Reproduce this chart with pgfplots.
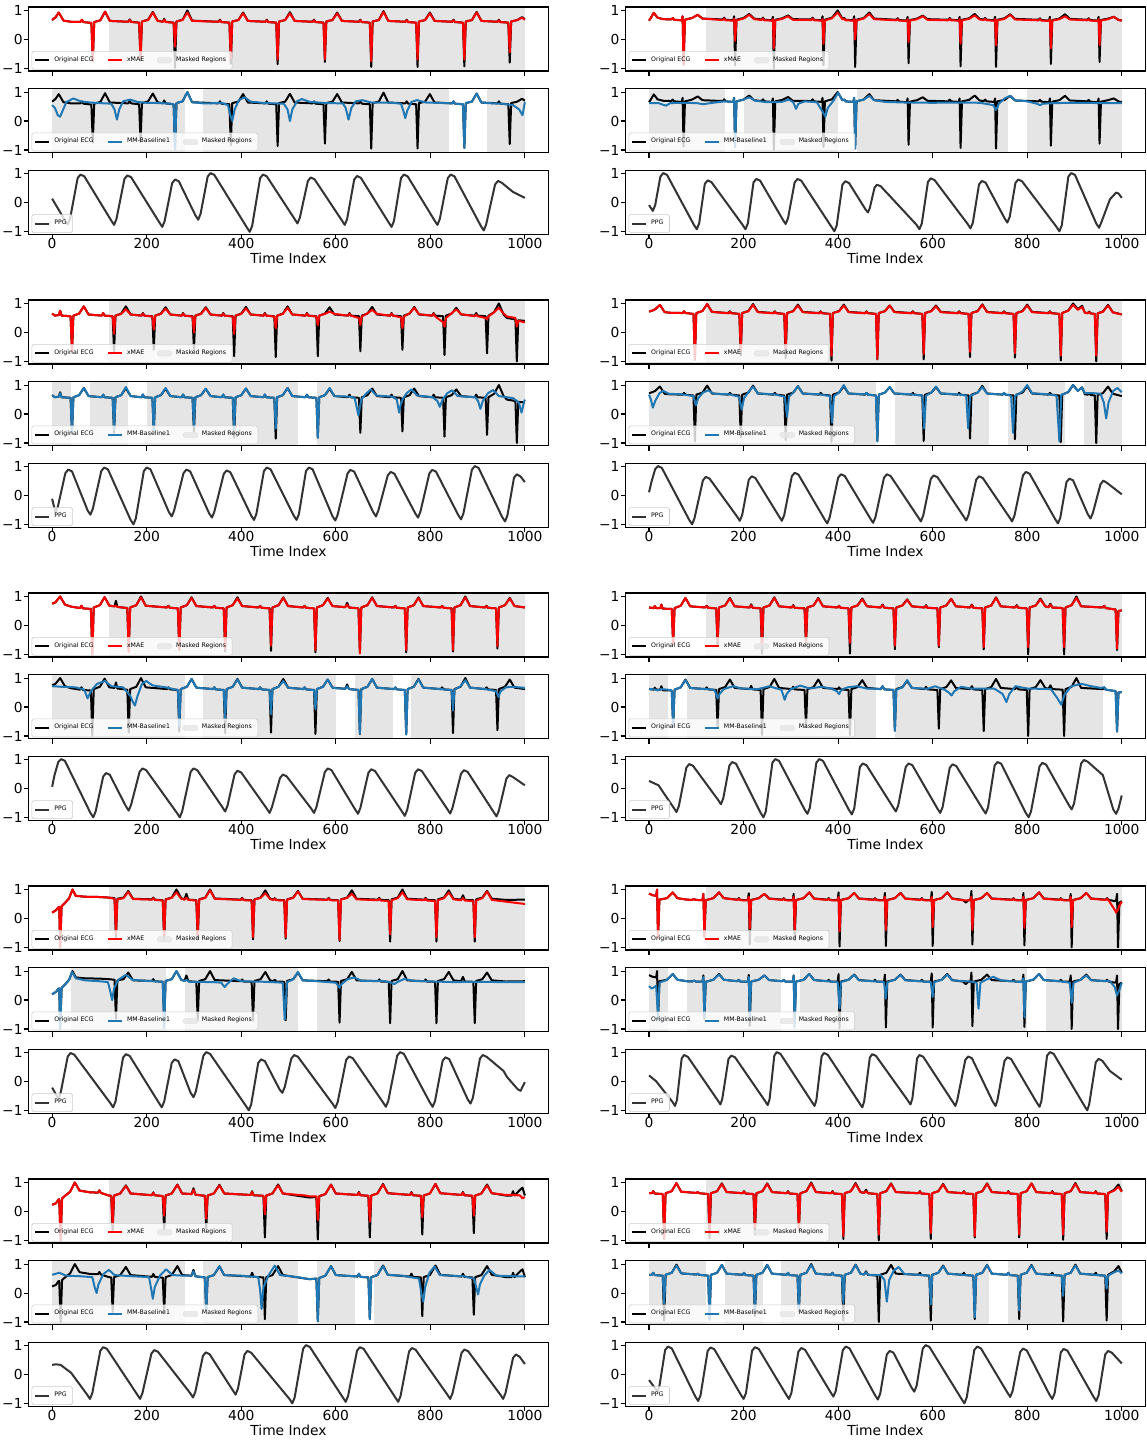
\documentclass[border=0pt]{standalone}
\usepackage{fontspec}
\setmainfont{DejaVu Sans}
\usepackage{pgfplots}
\usepackage{pgfplotstable}
\pgfplotsset{compat=1.18}
\definecolor{maskgray}{gray}{0.9}
\definecolor{mmblue}{RGB}{31,119,180}
\definecolor{ppgc}{gray}{0.2}
\pgfplotsset{
 legend image code/.code={\draw[#1] (0pt,0pt) -- (7.2pt,0pt);},
 maskleg/.style={legend image code/.code={\fill[maskgray] (0pt,-1.3pt) rectangle (7.2pt,1.3pt);}},
 ecgline/.style={black, line width=1pt, line join=round},
 maeline/.style={red, line width=1pt, line join=round},
 blueline/.style={mmblue, line width=1pt, line join=round},
 ppgline/.style={ppgc, line width=1pt, line join=round},
 base/.style={scale only axis, axis on top, width=260pt, height=32pt, xmin=-50, xmax=1050,
  xtick={0,200,400,600,800,1000}, xticklabels={}, ytick={-1,0,1}, yticklabels={−1,0,1},
  tick align=outside, tick pos=left, major tick length=2.45pt,
  every tick/.style={black, line width=0.55pt}, axis line style={line width=0.55pt},
  ticklabel style={font=\fontsize{6.9}{8}\selectfont},
  xticklabel style={yshift=4pt}, yticklabel style={xshift=3pt},
  legend style={font=\fontsize{3.1}{3.7}\selectfont, at={(0.006,0.02)}, anchor=south west,
   draw=black!20, line width=0.3pt, fill=white, fill opacity=0.8, text opacity=1,
   rounded corners=0.8pt, inner xsep=1pt, inner ysep=0.6pt,
   /tikz/every even column/.append style={column sep=4.5pt}},
  legend cell align=left},
 ecgax/.style={base, ymin=-1.09, ymax=1.12, legend columns=3},
 ppgax/.style={base, ymin=-1.1, ymax=1.1, xticklabels={0,200,400,600,800,1000},
  xlabel={Time Index}, xlabel style={font=\fontsize{6.9}{8}\selectfont, at={(axis description cs:0.5,-0.385)}, anchor=center}},
}
\newcommand{\mask}[2]{\addplot[draw=none, fill=maskgray, forget plot] coordinates {(#1,-2) (#1,2) (#2,2) (#2,-2)};}
\newcommand{\panel}[6]{%
 \begin{axis}[ecgax, at={(#1,#2)}, anchor=north west]
  \mask{120}{1000}
  \addplot[ecgline] table[x=x,y=e]{#3};
  \addplot[maeline] table[x=x,y=m]{#3};
  \addlegendimage{maskleg}
  \legend{Original ECG,xMAE,Masked Regions}
 \end{axis}
 \begin{axis}[ecgax, at={(#1,#2-40.8pt)}, anchor=north west]
  #6
  \addplot[ecgline] table[x=x,y=e]{#3};
  \addplot[blueline] table[x=x,y=y]{#4};
  \addlegendimage{maskleg}
  \legend{Original ECG,MM-Baseline1,Masked Regions}
 \end{axis}
 \begin{axis}[ppgax, at={(#1,#2-81.6pt)}, anchor=north west]
  \addplot[ppgline] table[x=x,y=y]{#5};
  \legend{PPG}
 \end{axis}
}
% ---------------- Panel A (row 1 left)
\pgfplotstableread{
x e m
0 0.67 0.67
7 0.76 0.76
14 0.93 0.93
24 0.65 0.65
40 0.61 0.61
60 0.61 0.61
63 0.68 0.68
66 0.6 0.6
83 0.57 0.57
86 -0.75 -0.75
89 0.6 0.6
102 0.66 0.66
112 0.96 0.96
122 0.64 0.64
161 0.61 0.61
164 0.69 0.67
167 0.61 0.6
184 0.58 0.58
187 -0.72 -0.63
190 0.62 0.62
203 0.68 0.67
213 0.95 0.93
223 0.65 0.64
234 0.61 0.61
237 0.71 0.68
240 0.61 0.6
257 0.58 0.58
260 -0.98 -0.25
263 0.62 0.62
276 0.68 0.67
286 1.0 0.93
296 0.65 0.64
352 0.61 0.61
355 0.68 0.66
358 0.6 0.6
375 0.58 0.58
378 -0.84 -0.67
381 0.62 0.62
394 0.67 0.67
404 0.93 0.9
414 0.64 0.64
451 0.61 0.61
454 0.68 0.66
457 0.6 0.6
474 0.58 0.58
477 -0.86 -0.7
480 0.62 0.62
493 0.67 0.67
503 0.94 0.9
513 0.64 0.64
551 0.61 0.61
554 0.68 0.66
557 0.6 0.6
574 0.58 0.58
577 -0.78 -0.68
580 0.62 0.62
593 0.67 0.67
603 0.93 0.9
613 0.64 0.64
649 0.61 0.61
652 0.68 0.66
655 0.6 0.6
672 0.58 0.58
675 -0.95 -0.75
678 0.62 0.62
691 0.67 0.67
701 0.98 0.95
711 0.64 0.64
747 0.61 0.61
750 0.68 0.66
753 0.6 0.6
770 0.58 0.58
773 -0.95 -0.7
776 0.62 0.62
789 0.67 0.67
799 0.93 0.9
809 0.64 0.64
846 0.61 0.61
849 0.68 0.66
852 0.6 0.6
869 0.58 0.58
872 -0.93 -0.7
875 0.62 0.62
888 0.67 0.67
898 0.95 0.93
908 0.64 0.64
942 0.61 0.61
945 0.68 0.66
948 0.6 0.6
965 0.58 0.58
968 -0.8 -0.45
971 0.62 0.62
984 0.67 0.67
994 0.77 0.75
1000 0.7 0.68
}\ecgA
\pgfplotstableread{
x y
0 0.55
6 0.45
12 0.2
17 0.15
22 0.35
30 0.65
45 0.78
60 0.68
80 0.64
100 0.62
125 0.6
132 0.4
137 0.05
142 0.4
150 0.68
165 0.74
180 0.66
200 0.63
230 0.62
250 0.6
257 0.58
260 -0.98
263 0.62
276 0.68
286 1.0
296 0.65
320 0.61
360 0.62
372 0.55
377 0.2
381 0.0
386 0.4
395 0.72
407 0.82
420 0.67
450 0.62
490 0.6
498 0.4
503 0.0
508 0.4
518 0.68
528 0.76
545 0.66
580 0.62
615 0.61
621 0.45
627 0.05
633 0.45
642 0.68
656 0.72
675 0.64
720 0.63
738 0.6
743 0.35
747 0.1
751 0.35
760 0.66
772 0.72
790 0.64
830 0.62
846 0.61
849 0.68
852 0.6
869 0.58
872 -0.93
875 0.62
888 0.67
898 0.95
908 0.64
920 0.62
950 0.6
975 0.55
988 0.4
995 0.2
1000 0.65
}\mmA
\pgfplotstableread{
x y
0 0.12
27 -0.62
33 -0.76
38 -0.56
54 0.83
60 0.95
68 0.89
125 -0.63
131 -0.78
136 -0.58
153 0.8
159 0.92
167 0.86
227 -0.7
233 -0.85
238 -0.65
254 0.66
260 0.78
268 0.72
303 -0.45
309 -0.6
314 -0.4
329 0.88
335 1.0
343 0.94
412 -0.87
418 -1.02
423 -0.82
440 0.83
446 0.95
454 0.89
513 -0.58
519 -0.73
524 -0.53
541 0.73
547 0.85
555 0.79
613 -0.63
619 -0.78
624 -0.58
639 0.78
645 0.9
653 0.84
712 -0.7
718 -0.85
723 -0.65
738 0.83
744 0.95
752 0.89
809 -0.63
815 -0.78
820 -0.58
837 0.83
843 0.95
851 0.89
907 -0.82
913 -0.97
918 -0.77
937 0.61
943 0.73
951 0.67
975 0.35
1000 0.15
}\ppgA
% ---------------- Panel B (row 1 right)
\pgfplotstableread{
x e m
0 0.65 0.65
4 0.75 0.75
10 0.92 0.92
18 0.75 0.75
30 0.7 0.7
47 0.69 0.69
50 0.74 0.74
53 0.68 0.68
69 0.66 0.66
71 0.8 0.8
73 -0.88 -0.88
76 0.68 0.68
91 0.74 0.74
103 0.85 0.85
113 0.72 0.72
156 0.69 0.67
159 0.75 0.72
162 0.68 0.66
178 0.66 0.65
180 0.8 0.72
182 -0.9 -0.05
185 0.68 0.66
200 0.74 0.72
212 0.88 0.85
222 0.72 0.7
238 0.69 0.67
241 0.75 0.72
244 0.68 0.66
260 0.66 0.65
262 0.78 0.7
264 -1.0 -0.3
267 0.68 0.66
282 0.73 0.71
294 0.83 0.8
304 0.7 0.68
343 0.69 0.67
346 0.75 0.72
349 0.68 0.66
365 0.66 0.65
367 0.8 0.7
369 -0.9 -0.15
372 0.68 0.66
387 0.75 0.73
399 1.0 0.93
409 0.72 0.7
413 0.74 0.71
416 0.68 0.66
432 0.66 0.65
434 0.8 0.7
436 -0.95 0.0
439 0.68 0.66
454 0.74 0.72
466 0.93 0.88
476 0.72 0.7
523 0.68 0.66
526 0.73 0.7
529 0.67 0.65
545 0.65 0.64
547 0.78 0.7
549 -0.82 -0.1
552 0.67 0.65
567 0.72 0.7
579 0.82 0.8
589 0.7 0.68
633 0.68 0.66
636 0.74 0.71
639 0.68 0.66
655 0.66 0.65
657 0.78 0.7
659 -0.93 -0.15
662 0.68 0.66
677 0.73 0.71
689 0.88 0.83
699 0.71 0.69
708 0.69 0.67
711 0.74 0.71
714 0.68 0.66
730 0.66 0.65
732 0.78 0.7
734 -0.95 -0.2
737 0.68 0.66
752 0.73 0.71
764 0.87 0.85
774 0.71 0.69
824 0.68 0.66
827 0.73 0.7
830 0.67 0.65
846 0.65 0.64
848 0.78 0.7
850 -0.85 -0.3
853 0.67 0.65
868 0.72 0.7
880 0.87 0.8
890 0.71 0.69
927 0.68 0.66
930 0.73 0.7
933 0.67 0.65
949 0.65 0.64
951 0.78 0.7
953 -0.78 -0.2
956 0.67 0.65
971 0.72 0.7
983 0.78 0.78
993 0.68 0.67
1000 0.65 0.65
}\ecgB
\pgfplotstableread{
x y
0 0.62
20 0.62
30 0.56
36 0.53
45 0.62
70 0.63
100 0.62
115 0.58
122 0.6
140 0.64
160 0.68
162 0.68
178 0.66
180 0.8
182 -0.9
185 0.68
200 0.74
212 0.82
225 0.7
250 0.65
280 0.66
296 0.74
305 0.65
311 0.42
316 0.6
330 0.68
355 0.65
368 0.3
373 0.15
378 0.45
390 0.7
400 0.98
409 0.72
413 0.74
416 0.68
432 0.66
434 0.8
436 -0.95
439 0.68
454 0.74
466 0.87
476 0.72
500 0.66
540 0.64
600 0.63
660 0.64
700 0.63
728 0.55
734 0.38
740 0.6
752 0.78
764 0.87
774 0.72
800 0.68
820 0.6
827 0.55
834 0.6
860 0.62
900 0.63
960 0.62
1000 0.62
}\mmB
\pgfplotstableread{
x y
0 -0.1
8 -0.3
13 -0.1
24 0.88
30 1.0
38 0.94
95 -0.78
101 -0.93
106 -0.73
118 0.63
124 0.75
132 0.69
198 -0.78
204 -0.93
209 -0.73
221 0.68
227 0.8
235 0.74
283 -0.6
289 -0.75
294 -0.55
308 0.68
314 0.8
322 0.74
386 -0.85
392 -1.0
397 -0.8
409 0.6
415 0.72
423 0.66
458 -0.25
463 -0.35
467 -0.2
477 0.5
482 0.6
490 0.55
566 -0.78
572 -0.93
577 -0.73
590 0.7
596 0.82
604 0.76
674 -0.75
680 -0.9
685 -0.7
698 0.61
704 0.73
712 0.67
752 -0.55
758 -0.7
763 -0.5
775 0.66
781 0.78
789 0.72
862 -0.85
868 -1.0
873 -0.8
887 0.88
893 1.0
901 0.94
946 -0.73
952 -0.88
957 -0.68
975 0.1
988 0.33
993 0.3
1000 0.15
}\ppgB
% ---------------- Panel C (row 2 left)
\pgfplotstableread{
x e m
0 0.65 0.65
6 0.58 0.58
14 0.6 0.6
17 0.75 0.75
20 0.58 0.58
39 0.56 0.56
42 -0.65 -0.65
45 0.58 0.58
57 0.65 0.65
67 0.9 0.9
77 0.62 0.62
105 0.58 0.58
108 0.67 0.67
111 0.58 0.58
128 0.56 0.56
131 -0.65 -0.05
134 0.58 0.58
146 0.65 0.64
156 0.9 0.8
166 0.62 0.62
189 0.58 0.58
192 0.67 0.65
195 0.58 0.58
212 0.56 0.55
215 -0.6 0.1
218 0.58 0.58
230 0.65 0.64
240 0.87 0.82
250 0.62 0.62
274 0.58 0.58
277 0.67 0.65
280 0.58 0.58
297 0.56 0.55
300 -0.6 0.0
303 0.58 0.58
315 0.65 0.64
325 0.87 0.84
335 0.62 0.62
359 0.58 0.58
362 0.67 0.65
365 0.58 0.58
382 0.56 0.55
385 -0.82 -0.05
388 0.58 0.58
400 0.65 0.64
410 0.88 0.83
420 0.62 0.62
447 0.58 0.58
450 0.67 0.65
453 0.58 0.58
470 0.56 0.55
473 -0.85 0.15
476 0.58 0.58
488 0.65 0.64
498 0.9 0.85
508 0.62 0.62
536 0.58 0.58
539 0.67 0.65
542 0.58 0.58
559 0.56 0.55
562 -0.82 0.25
565 0.58 0.58
577 0.65 0.64
587 0.87 0.72
597 0.62 0.64
626 0.58 0.58
629 0.67 0.65
632 0.58 0.58
649 0.56 0.5
652 -0.65 0.25
655 0.58 0.55
667 0.65 0.66
677 0.88 0.78
687 0.62 0.64
715 0.58 0.58
718 0.67 0.65
721 0.58 0.58
738 0.56 0.52
741 -0.6 0.15
744 0.58 0.55
756 0.65 0.66
766 0.88 0.85
776 0.62 0.63
804 0.58 0.58
807 0.67 0.65
810 0.58 0.56
827 0.56 0.35
830 -0.78 0.2
833 0.58 0.5
845 0.65 0.66
855 0.85 0.8
865 0.62 0.63
894 0.58 0.56
897 0.67 0.62
900 0.58 0.56
917 0.56 0.5
920 -0.72 0.45
923 0.58 0.55
935 0.7 0.7
945 1.0 0.85
955 0.62 0.65
962 0.5 0.55
980 0.45 0.5
983 -1.0 0.2
986 0.42 0.4
1000 0.4 0.35
}\ecgC
\pgfplotstableread{
x y
0 0.65
6 0.58
14 0.6
17 0.72
20 0.58
39 0.56
42 -0.65
45 0.58
57 0.65
67 0.9
77 0.62
105 0.58
108 0.67
111 0.58
128 0.56
131 -0.55
134 0.58
146 0.65
156 0.93
166 0.62
189 0.58
192 0.68
195 0.58
212 0.56
215 -0.6
218 0.58
230 0.65
240 0.9
250 0.62
274 0.58
277 0.68
280 0.58
297 0.56
300 -0.42
303 0.58
315 0.65
325 0.87
335 0.62
359 0.58
362 0.68
365 0.58
382 0.56
385 -0.55
388 0.58
400 0.65
410 0.88
420 0.62
447 0.58
450 0.68
453 0.58
470 0.56
473 -0.5
476 0.58
488 0.65
498 0.9
508 0.62
536 0.58
539 0.66
542 0.58
559 0.56
562 -0.82
565 0.58
577 0.65
587 0.9
597 0.62
630 0.6
640 0.55
648 -0.05
654 0.5
664 0.7
674 0.85
686 0.64
720 0.6
729 0.5
734 0.05
739 0.45
750 0.72
760 0.85
772 0.64
805 0.58
815 0.45
820 0.25
826 0.5
836 0.72
846 0.82
858 0.62
895 0.58
901 0.45
906 0.18
911 0.45
922 0.72
933 0.83
945 0.62
975 0.55
987 0.4
993 0.05
998 0.4
1000 0.5
}\mmC
\pgfplotstableread{
x y
0 -0.12
7 -0.6
12 -0.4
28 0.76
34 0.88
42 0.82
75 -0.52
81 -0.67
86 -0.47
104 0.83
110 0.95
118 0.89
166 -0.85
172 -1.0
177 -0.8
194 0.83
200 0.95
208 0.89
247 -0.58
253 -0.73
258 -0.53
278 0.76
284 0.88
292 0.82
332 -0.62
338 -0.77
343 -0.57
363 0.73
369 0.85
377 0.79
421 -0.7
427 -0.85
432 -0.65
448 0.83
454 0.95
462 0.89
511 -0.7
517 -0.85
522 -0.65
537 0.83
543 0.95
551 0.89
593 -0.72
599 -0.87
604 -0.67
625 0.75
631 0.87
639 0.81
679 -0.58
685 -0.73
690 -0.53
710 0.68
716 0.8
724 0.74
768 -0.62
774 -0.77
779 -0.57
798 0.75
804 0.87
812 0.81
859 -0.68
865 -0.83
870 -0.63
888 0.88
894 1.0
902 0.94
952 -0.75
958 -0.9
963 -0.7
977 0.6
983 0.72
991 0.64
1000 0.45
}\ppgC
% ---------------- Panel D (row 2 right)
\pgfplotstableread{
x e m
0 0.72 0.72
8 0.76 0.76
13 0.8 0.8
23 0.95 0.95
33 0.7 0.7
45 0.68 0.68
71 0.67 0.67
74 0.73 0.73
77 0.67 0.67
94 0.64 0.64
97 -0.95 -0.92
100 0.67 0.67
113 0.74 0.74
123 0.98 0.98
133 0.71 0.71
168 0.67 0.66
171 0.73 0.71
174 0.67 0.66
191 0.64 0.64
194 -0.8 -0.6
197 0.67 0.67
210 0.74 0.73
220 0.98 0.95
230 0.71 0.7
263 0.67 0.66
266 0.73 0.71
269 0.67 0.66
286 0.64 0.64
289 -0.9 -0.55
292 0.67 0.67
305 0.74 0.73
315 0.96 0.93
325 0.71 0.7
360 0.67 0.66
363 0.73 0.71
366 0.67 0.66
383 0.64 0.64
386 -0.97 -0.8
389 0.67 0.67
402 0.74 0.73
412 0.96 0.93
422 0.71 0.7
457 0.67 0.66
460 0.73 0.71
463 0.67 0.66
480 0.64 0.64
483 -0.93 -0.92
486 0.67 0.67
499 0.74 0.73
509 0.93 0.93
519 0.71 0.7
555 0.67 0.66
558 0.73 0.71
561 0.67 0.66
578 0.64 0.64
581 -0.93 -0.75
584 0.67 0.67
597 0.74 0.73
607 0.93 0.9
617 0.71 0.7
653 0.67 0.66
656 0.73 0.71
659 0.67 0.66
676 0.64 0.64
679 -0.85 -0.67
682 0.67 0.67
695 0.74 0.73
705 0.97 0.95
715 0.71 0.7
748 0.67 0.66
751 0.73 0.71
754 0.67 0.66
771 0.64 0.64
774 -0.87 -0.72
777 0.67 0.67
790 0.74 0.73
800 0.96 0.93
810 0.71 0.7
845 0.67 0.66
848 0.73 0.71
851 0.67 0.66
868 0.64 0.64
871 -0.97 -0.8
874 0.67 0.67
887 0.76 0.75
897 1.0 0.95
907 0.8 0.78
916 0.92 0.88
922 0.68 0.68
928 0.67 0.66
931 0.72 0.7
934 0.66 0.65
943 0.64 0.64
946 -1.0 -0.8
949 0.66 0.66
960 0.72 0.71
971 0.95 0.93
981 0.7 0.69
1000 0.62 0.62
}\ecgD
\pgfplotstableread{
x y
0 0.67
4 0.5
8 0.22
13 0.45
22 0.72
30 0.8
42 0.7
70 0.68
94 0.62
99 0.3
104 0.55
114 0.74
125 0.82
137 0.7
170 0.68
190 0.6
196 0.15
201 0.55
210 0.75
220 0.95
230 0.71
265 0.68
287 0.6
292 -0.1
296 0.6
305 0.74
315 0.96
325 0.71
360 0.68
383 0.62
387 -0.3
391 0.62
402 0.74
412 1.0
422 0.71
457 0.68
460 0.73
463 0.67
480 0.64
483 -0.95
486 0.67
499 0.74
509 0.93
519 0.71
555 0.68
578 0.64
582 -0.5
586 0.64
597 0.74
607 0.95
617 0.71
653 0.68
671 0.64
675 -0.5
679 0.62
695 0.74
705 0.93
715 0.71
720 0.7
748 0.67
751 0.73
754 0.67
760 0.66
766 0.62
770 -0.65
774 0.62
790 0.78
800 1.0
810 0.72
845 0.68
862 0.64
868 -0.95
872 0.67
880 0.7
887 0.78
897 1.0
907 0.8
916 0.92
922 0.72
940 0.72
955 0.7
962 0.4
967 -0.15
972 0.4
982 0.8
991 0.9
1000 0.75
}\mmD
\pgfplotstableread{
x y
0 0.1
5 0.45
13 0.9
19 1.0
27 0.94
85 -0.85
91 -1.0
96 -0.8
114 0.51
120 0.63
128 0.57
186 -0.73
192 -0.88
197 -0.68
211 0.53
217 0.65
225 0.59
275 -0.73
281 -0.88
286 -0.68
302 0.65
308 0.77
316 0.71
371 -0.82
377 -0.97
382 -0.77
400 0.6
406 0.72
414 0.66
468 -0.8
474 -0.95
479 -0.75
497 0.6
503 0.72
511 0.66
569 -0.75
575 -0.9
580 -0.7
596 0.56
602 0.68
610 0.62
665 -0.72
671 -0.87
676 -0.67
692 0.53
698 0.65
706 0.59
762 -0.75
768 -0.9
773 -0.7
791 0.68
797 0.8
805 0.74
859 -0.82
865 -0.97
870 -0.77
883 0.45
889 0.57
897 0.51
928 -0.65
934 -0.8
939 -0.6
955 0.38
961 0.5
969 0.42
1000 0.03
}\ppgD
% ---------------- Panel E (row 3 left)
\pgfplotstableread{
x e m
0 0.75 0.75
7 0.8 0.8
17 1.0 1.0
27 0.72 0.72
40 0.65 0.65
59 0.6 0.6
62 0.68 0.68
65 0.59 0.59
82 0.57 0.57
85 -1.0 -1.0
88 0.62 0.62
101 0.7 0.7
111 0.98 0.98
121 0.68 0.68
132 0.66 0.66
135 0.85 0.68
138 0.64 0.64
159 0.6 0.6
162 -0.88 -0.92
165 0.62 0.62
178 0.7 0.7
188 1.0 0.97
198 0.68 0.68
243 0.62 0.62
246 0.68 0.67
249 0.61 0.61
266 0.59 0.59
269 -0.85 -0.85
272 0.62 0.62
285 0.7 0.7
295 0.97 0.95
305 0.67 0.67
340 0.62 0.62
343 0.68 0.67
346 0.61 0.61
363 0.59 0.59
366 -0.9 -0.8
369 0.62 0.62
382 0.7 0.7
392 0.97 0.93
402 0.67 0.67
437 0.62 0.62
440 0.68 0.67
443 0.61 0.61
460 0.59 0.59
463 -0.88 -0.7
466 0.62 0.62
479 0.7 0.7
489 0.97 0.95
499 0.67 0.67
531 0.62 0.62
534 0.68 0.67
537 0.61 0.61
554 0.59 0.59
557 -0.93 -0.85
560 0.62 0.62
573 0.7 0.7
583 0.95 0.93
593 0.67 0.67
620 0.63 0.63
624 0.78 0.72
628 0.62 0.62
648 0.59 0.59
651 -0.93 -0.97
654 0.62 0.62
667 0.7 0.7
677 0.97 0.95
687 0.67 0.67
723 0.62 0.62
726 0.68 0.67
729 0.61 0.61
746 0.59 0.59
749 -0.93 -0.85
752 0.62 0.62
765 0.7 0.7
775 0.97 0.95
785 0.67 0.67
822 0.62 0.62
825 0.68 0.67
828 0.61 0.61
845 0.59 0.59
848 -0.9 -0.85
851 0.62 0.62
864 0.7 0.7
874 1.0 0.97
884 0.67 0.67
916 0.62 0.62
919 0.68 0.67
922 0.61 0.61
939 0.59 0.59
942 -0.8 -0.72
945 0.62 0.62
958 0.7 0.7
968 0.95 0.93
978 0.67 0.67
1000 0.62 0.62
}\ecgE
\pgfplotstableread{
x y
0 0.72
20 0.7
50 0.68
68 0.6
75 0.3
82 0.55
95 0.8
112 0.9
125 0.72
150 0.68
165 0.4
170 0.2
175 0.05
181 0.4
190 0.8
199 0.9
212 0.75
240 0.68
266 0.59
269 -0.65
272 0.62
285 0.7
295 0.97
305 0.67
340 0.62
343 0.68
346 0.61
363 0.59
366 -0.45
369 0.62
382 0.7
392 0.95
402 0.67
437 0.62
440 0.68
443 0.61
460 0.59
463 -0.25
466 0.62
479 0.7
489 0.9
499 0.67
531 0.62
534 0.68
537 0.61
554 0.59
557 -0.08
560 0.62
573 0.7
583 0.95
593 0.67
600 0.65
620 0.63
624 0.72
628 0.62
648 0.59
651 -0.93
654 0.62
667 0.7
677 0.97
687 0.67
723 0.62
726 0.68
729 0.61
746 0.59
749 -0.95
752 0.62
765 0.7
775 0.95
785 0.67
822 0.62
845 0.59
848 -0.12
851 0.6
864 0.72
874 0.93
884 0.67
916 0.62
939 0.55
944 0.35
949 0.55
960 0.68
975 0.7
1000 0.66
}\mmE
\pgfplotstableread{
x y
0 0.05
5 0.45
13 0.9
19 1.0
27 0.94
81 -0.85
87 -1.0
92 -0.8
108 0.4
114 0.52
122 0.46
156 -0.62
162 -0.77
167 -0.57
185 0.56
191 0.68
199 0.62
264 -0.85
270 -1.0
275 -0.8
293 0.56
299 0.68
307 0.62
360 -0.65
366 -0.8
371 -0.6
386 0.48
392 0.6
400 0.54
454 -0.7
460 -0.85
465 -0.65
482 0.35
488 0.47
496 0.41
548 -0.7
554 -0.85
559 -0.65
577 0.56
583 0.68
591 0.62
641 -0.73
647 -0.88
652 -0.68
669 0.53
675 0.65
683 0.59
740 -0.8
746 -0.95
751 -0.75
768 0.53
774 0.65
782 0.59
836 -0.72
842 -0.87
847 -0.67
865 0.5
871 0.62
879 0.56
934 -0.82
940 -0.97
945 -0.77
961 0.33
967 0.45
975 0.38
1000 0.1
}\ppgE
% ---------------- Panel F (row 3 right)
\pgfplotstableread{
x e m
0 0.62 0.62
10 0.6 0.6
12 0.67 0.67
15 0.6 0.6
24 0.6 0.6
26 0.72 0.72
29 0.58 0.58
48 0.57 0.57
51 -0.65 -0.65
54 0.6 0.6
67 0.68 0.68
77 0.95 0.95
87 0.66 0.66
119 0.62 0.62
122 0.68 0.67
125 0.61 0.61
142 0.59 0.59
145 -0.7 -0.55
148 0.62 0.62
161 0.69 0.69
171 0.95 0.93
181 0.66 0.66
213 0.62 0.62
216 0.73 0.7
219 0.61 0.61
236 0.59 0.59
239 -0.97 -0.7
242 0.62 0.62
255 0.69 0.69
265 0.97 0.95
275 0.66 0.66
302 0.62 0.62
305 0.7 0.68
308 0.61 0.61
329 0.59 0.59
332 -0.7 -0.55
335 0.62 0.62
348 0.69 0.69
358 0.95 0.93
368 0.66 0.66
399 0.62 0.62
402 0.68 0.67
405 0.61 0.61
422 0.59 0.59
425 -0.97 -0.6
428 0.62 0.62
441 0.69 0.69
451 0.93 0.9
461 0.66 0.66
490 0.62 0.62
494 0.72 0.7
498 0.61 0.61
517 0.59 0.59
520 -0.82 -0.7
523 0.62 0.62
536 0.69 0.69
546 0.9 0.88
556 0.66 0.66
583 0.62 0.62
586 0.7 0.68
589 0.61 0.61
610 0.59 0.59
613 -0.75 -0.7
616 0.62 0.62
629 0.69 0.69
639 0.92 0.92
649 0.66 0.66
679 0.62 0.62
683 0.72 0.7
686 0.61 0.61
705 0.59 0.59
708 -0.83 -0.75
711 0.62 0.62
724 0.69 0.69
734 0.97 0.95
744 0.66 0.66
774 0.62 0.62
778 0.7 0.68
781 0.61 0.61
799 0.59 0.59
802 -1.0 -0.75
805 0.62 0.62
818 0.69 0.69
828 0.93 0.9
838 0.66 0.66
845 0.63 0.63
849 0.75 0.72
853 0.62 0.62
875 0.6 0.6
878 -1.0 -0.75
881 0.62 0.62
894 0.7 0.7
904 1.0 0.95
914 0.66 0.66
960 0.62 0.62
963 0.68 0.67
966 0.6 0.6
987 0.55 0.55
990 -0.85 -0.8
993 0.5 0.5
1000 0.52 0.52
}\ecgF
\pgfplotstableread{
x y
0 0.63
14 0.6
19 0.57
24 0.62
40 0.6
48 0.57
51 -0.65
54 0.6
67 0.68
77 0.93
87 0.66
100 0.64
120 0.62
138 0.6
142 0.45
145 0.29
149 0.45
158 0.62
178 0.72
195 0.64
230 0.62
255 0.72
270 0.64
280 0.6
284 0.4
287 0.25
291 0.45
300 0.62
320 0.74
340 0.64
365 0.7
385 0.64
397 0.55
402 0.45
407 0.6
420 0.68
440 0.72
460 0.64
480 0.63
490 0.62
494 0.72
498 0.61
517 0.59
520 -0.82
523 0.6
536 0.68
546 0.93
556 0.66
590 0.63
605 0.72
625 0.6
634 0.5
640 0.4
646 0.55
660 0.7
680 0.64
730 0.64
748 0.45
756 0.17
762 0.45
775 0.72
800 0.64
850 0.62
864 0.3
872 0.08
878 0.4
893 0.72
915 0.8
935 0.72
955 0.66
963 0.68
966 0.6
987 0.55
990 -0.85
993 0.5
1000 0.52
}\mmF
\pgfplotstableread{
x y
0 0.25
20 0.1
52 -0.67
58 -0.82
63 -0.62
79 0.71
85 0.83
93 0.77
146 -0.4
152 -0.55
157 -0.35
170 0.78
176 0.9
184 0.84
236 -0.85
242 -1.0
247 -0.8
261 0.88
267 1.0
275 0.94
329 -0.73
335 -0.88
340 -0.68
354 0.88
360 1.0
368 0.94
423 -0.75
429 -0.9
434 -0.7
446 0.73
452 0.85
460 0.79
516 -0.65
522 -0.8
527 -0.6
543 0.73
549 0.85
557 0.79
610 -0.7
616 -0.85
621 -0.65
636 0.7
642 0.82
650 0.76
706 -0.72
712 -0.87
717 -0.67
731 0.78
737 0.9
745 0.84
797 -0.85
803 -1.0
808 -0.8
826 0.75
832 0.87
840 0.81
888 -0.58
894 -0.73
899 -0.53
914 0.85
920 0.97
928 0.91
960 0.45
982 -0.73
988 -0.88
993 -0.7
1000 -0.25
}\ppgF
% ---------------- Panel G (row 4 left)
\pgfplotstableread{
x e m
0 0.2 0.2
8 0.28 0.28
13 0.38 0.38
15 0.4 0.4
17 -1.0 -1.0
20 0.42 0.42
28 0.55 0.55
36 0.7 0.7
43 1.0 1.0
50 0.78 0.78
70 0.75 0.75
100 0.74 0.74
120 0.72 0.72
132 0.7 0.68
135 -0.65 -0.55
138 0.68 0.66
151 0.72 0.7
161 0.95 0.92
171 0.68 0.67
211 0.66 0.65
214 0.72 0.7
217 0.65 0.64
234 0.63 0.62
237 -0.75 -0.6
240 0.66 0.65
253 0.72 0.71
263 1.0 0.9
273 0.7 0.68
280 0.66 0.65
284 0.85 0.72
288 0.65 0.64
305 0.63 0.62
308 -0.72 -0.6
311 0.66 0.65
324 0.72 0.71
334 1.0 0.97
344 0.69 0.68
399 0.65 0.64
402 0.71 0.69
405 0.64 0.63
422 0.63 0.62
425 -0.72 -0.65
428 0.66 0.65
441 0.72 0.71
451 0.97 0.87
461 0.68 0.67
468 0.65 0.64
471 0.7 0.68
474 0.64 0.63
491 0.63 0.62
494 -0.7 -0.65
497 0.66 0.65
510 0.72 0.71
520 0.95 0.93
530 0.68 0.67
582 0.65 0.64
585 0.71 0.69
588 0.64 0.63
605 0.63 0.62
608 -0.78 -0.75
611 0.66 0.65
624 0.72 0.71
634 0.97 0.85
644 0.68 0.66
689 0.65 0.63
692 0.71 0.68
695 0.64 0.62
712 0.63 0.6
715 -0.8 -0.55
718 0.66 0.63
731 0.72 0.7
741 1.0 0.9
751 0.68 0.66
787 0.65 0.63
790 0.71 0.68
793 0.64 0.62
810 0.63 0.6
813 -0.8 -0.65
816 0.66 0.63
829 0.72 0.7
839 0.97 0.9
849 0.68 0.66
865 0.65 0.63
869 0.8 0.7
873 0.64 0.62
891 0.63 0.6
894 -0.8 -0.65
897 0.66 0.62
910 0.72 0.7
920 0.95 0.93
930 0.68 0.64
960 0.64 0.58
1000 0.65 0.5
}\ecgG
\pgfplotstableread{
x y
0 0.2
8 0.28
13 0.38
15 0.4
17 -1.0
20 0.42
28 0.55
36 0.7
42 0.97
50 0.75
70 0.68
100 0.65
118 0.62
123 0.3
127 0.0
131 0.4
140 0.7
156 0.87
170 0.7
200 0.66
225 0.64
234 0.63
237 -0.96
240 0.66
253 0.72
263 1.0
273 0.7
280 0.66
284 0.7
290 0.63
340 0.62
358 0.6
362 0.5
365 0.45
370 0.55
384 0.75
400 0.65
450 0.63
488 0.6
492 -0.68
497 0.62
510 0.72
520 0.97
530 0.68
560 0.65
600 0.6
605 0.5
608 0.42
612 0.55
625 0.72
639 0.78
655 0.66
700 0.66
718 0.6
724 0.55
730 0.62
745 0.73
765 0.66
850 0.62
900 0.63
950 0.62
1000 0.62
}\mmG
\pgfplotstableread{
x y
0 -0.22
13 -0.6
18 -0.4
33 0.85
39 0.97
47 0.91
123 -0.75
129 -0.9
134 -0.7
150 0.81
156 0.93
164 0.87
226 -0.75
232 -0.9
237 -0.7
253 0.63
259 0.75
267 0.69
293 -0.4
299 -0.55
304 -0.35
320 0.88
326 1.0
334 0.94
410 -0.85
416 -1.0
421 -0.8
436 0.63
442 0.75
450 0.69
481 -0.28
487 -0.4
492 -0.2
506 0.78
512 0.9
520 0.84
593 -0.77
599 -0.92
604 -0.72
622 0.73
628 0.85
636 0.79
700 -0.73
706 -0.88
711 -0.68
730 0.88
736 1.0
744 0.94
799 -0.73
805 -0.88
810 -0.68
826 0.7
832 0.82
840 0.76
879 -0.62
885 -0.77
890 -0.57
905 0.78
911 0.9
919 0.84
955 0.35
962 0.15
985 -0.28
991 -0.33
1000 -0.03
}\ppgG
% ---------------- Panel H (row 4 right)
\pgfplotstableread{
x e m
0 0.86 0.86
8 0.8 0.8
15 0.78 0.78
17 1.0 1.0
19 -0.68 -0.68
22 0.65 0.65
38 0.7 0.7
50 0.9 0.9
60 0.7 0.7
80 0.65 0.65
91 0.64 0.64
95 0.67 0.67
99 0.64 0.64
113 0.63 0.63
115 0.85 0.85
117 -0.65 -0.65
120 0.63 0.63
136 0.7 0.7
148 0.9 0.9
158 0.7 0.7
187 0.65 0.64
190 0.7 0.68
193 0.64 0.63
209 0.63 0.62
211 0.87 0.75
213 -0.9 -0.35
216 0.64 0.63
232 0.7 0.7
244 0.85 0.85
254 0.69 0.68
282 0.65 0.64
285 0.7 0.68
288 0.64 0.63
304 0.63 0.62
306 0.85 0.75
308 -0.75 -0.45
311 0.64 0.63
327 0.7 0.7
339 0.9 0.9
349 0.69 0.68
377 0.65 0.64
380 0.7 0.68
383 0.64 0.63
399 0.63 0.62
401 0.9 0.75
403 -0.97 -0.45
406 0.64 0.63
422 0.7 0.7
434 0.88 0.88
444 0.69 0.68
475 0.65 0.64
478 0.7 0.68
481 0.64 0.63
497 0.63 0.62
499 0.88 0.75
501 -0.95 -0.4
504 0.64 0.63
520 0.7 0.7
532 0.88 0.88
542 0.69 0.68
574 0.65 0.64
577 0.7 0.68
580 0.64 0.63
596 0.63 0.62
598 0.92 0.75
600 -0.95 -0.3
603 0.64 0.63
619 0.7 0.7
631 0.9 0.9
641 0.69 0.68
658 0.65 0.64
664 0.64 0.63
670 0.55 0.62
676 0.64 0.63
680 0.63 0.62
682 0.95 0.75
684 -0.9 -0.4
687 0.64 0.63
703 0.7 0.7
715 0.88 0.88
725 0.69 0.68
768 0.65 0.64
771 0.7 0.68
774 0.64 0.63
790 0.63 0.62
792 0.88 0.75
794 -0.93 -0.33
797 0.64 0.63
813 0.7 0.7
825 0.9 0.9
835 0.69 0.68
868 0.65 0.64
871 0.7 0.68
874 0.64 0.63
890 0.63 0.62
892 0.85 0.75
894 -1.0 -0.3
897 0.64 0.63
913 0.7 0.7
925 0.88 0.88
935 0.69 0.68
966 0.65 0.64
969 0.7 0.68
972 0.64 0.63
985 0.6 0.3
988 0.62 0.2
990 0.85 0.25
992 -1.0 0.3
995 0.55 0.45
1000 0.6 0.58
}\ecgH
\pgfplotstableread{
x y
0 0.48
5 0.4
12 0.45
15 0.5
19 -0.6
22 0.6
38 0.7
50 0.9
60 0.7
80 0.65
91 0.64
95 0.67
99 0.64
113 0.63
115 0.8
117 -0.6
120 0.63
136 0.7
148 0.88
158 0.7
187 0.65
190 0.7
193 0.64
209 0.63
211 0.8
213 -0.6
216 0.64
232 0.7
244 0.85
254 0.69
282 0.65
285 0.7
288 0.64
304 0.63
306 0.85
308 -0.95
311 0.64
327 0.7
339 0.9
349 0.69
377 0.65
399 0.62
403 -0.3
406 0.62
422 0.7
434 0.87
444 0.68
475 0.65
497 0.62
501 0.05
504 0.62
520 0.7
532 0.87
542 0.68
574 0.65
596 0.62
600 0.1
603 0.62
619 0.7
631 0.88
641 0.68
680 0.64
693 0.6
697 -0.3
701 0.6
715 0.72
728 0.8
745 0.68
788 0.62
792 0.75
794 -0.6
797 0.64
813 0.71
825 0.9
835 0.69
868 0.65
890 0.6
894 -0.1
898 0.6
913 0.7
925 0.85
935 0.68
975 0.65
985 0.45
990 0.15
995 0.35
1000 0.6
}\mmH
\pgfplotstableread{
x y
0 0.2
15 0.0
49 -0.7
55 -0.85
59 -0.65
69 0.78
74 0.9
82 0.84
145 -0.65
151 -0.8
155 -0.6
168 0.76
174 0.88
182 0.82
245 -0.67
251 -0.82
255 -0.62
265 0.88
270 1.0
278 0.94
344 -0.7
350 -0.85
354 -0.65
365 0.85
370 0.97
378 0.91
445 -0.75
451 -0.9
455 -0.7
467 0.81
472 0.93
480 0.87
547 -0.65
553 -0.8
557 -0.6
567 0.78
572 0.9
580 0.84
642 -0.7
648 -0.85
652 -0.65
669 0.73
675 0.85
683 0.79
727 -0.7
733 -0.85
737 -0.65
752 0.7
758 0.82
766 0.76
820 -0.73
826 -0.88
830 -0.68
842 0.88
848 1.0
856 0.94
921 -0.85
927 -1.0
931 -0.8
945 0.65
951 0.77
959 0.7
975 0.35
1000 0.05
}\ppgH
% ---------------- Panel I (row 5 left)
\pgfplotstableread{
x e m
0 0.23 0.23
8 0.28 0.28
13 0.4 0.4
15 0.42 0.42
18 -1.0 -1.0
21 0.45 0.45
28 0.55 0.55
38 0.68 0.68
48 1.0 1.0
58 0.72 0.72
80 0.66 0.66
97 0.65 0.65
100 0.73 0.73
103 0.64 0.64
120 0.55 0.55
125 0.54 0.54
128 -0.65 -0.45
131 0.55 0.55
144 0.62 0.62
156 0.9 0.88
166 0.62 0.62
211 0.56 0.56
214 0.66 0.64
217 0.56 0.56
234 0.53 0.53
237 -0.65 -0.15
240 0.55 0.55
253 0.62 0.62
265 0.93 0.92
275 0.62 0.62
295 0.6 0.6
299 0.8 0.75
303 0.58 0.58
323 0.54 0.54
326 -0.6 -0.25
329 0.55 0.55
342 0.62 0.62
354 0.92 0.9
364 0.62 0.62
420 0.57 0.57
423 0.7 0.67
426 0.56 0.56
447 0.54 0.54
450 -0.9 -0.1
453 0.55 0.55
466 0.62 0.62
478 0.93 0.9
488 0.62 0.62
536 0.5 0.55
545 0.48 0.52
559 0.5 0.52
562 -0.97 -0.3
565 0.52 0.53
578 0.6 0.6
590 0.93 0.92
600 0.62 0.62
646 0.57 0.57
649 0.67 0.65
652 0.56 0.56
669 0.54 0.54
672 -0.9 -0.35
675 0.55 0.55
688 0.62 0.62
700 0.95 0.93
710 0.63 0.63
757 0.57 0.57
760 0.67 0.65
763 0.56 0.56
780 0.54 0.54
783 -0.8 -0.2
786 0.55 0.55
799 0.62 0.62
811 0.95 0.95
821 0.63 0.63
866 0.57 0.57
869 0.67 0.65
872 0.56 0.56
889 0.54 0.54
892 -0.75 -0.15
895 0.55 0.55
908 0.62 0.62
920 0.93 0.9
930 0.63 0.63
960 0.55 0.57
972 0.55 0.57
975 0.7 0.58
978 0.55 0.57
990 0.75 0.55
995 0.82 0.45
1000 0.55 0.5
}\ecgI
\pgfplotstableread{
x y
0 0.63
15 0.7
30 0.6
60 0.58
85 0.55
90 0.2
94 0.0
98 0.3
108 0.65
120 0.8
132 0.62
170 0.58
205 0.55
210 0.1
213 -0.2
217 0.2
228 0.6
241 0.82
255 0.62
280 0.6
295 0.6
299 0.75
303 0.58
323 0.54
326 -0.6
329 0.55
342 0.62
354 0.93
364 0.62
400 0.6
436 0.55
440 0.1
443 -0.55
447 0.2
458 0.62
471 0.95
482 0.62
520 0.55
536 0.5
545 0.48
559 0.5
562 -0.97
565 0.52
578 0.6
590 0.93
600 0.62
640 0.58
646 0.57
649 0.67
652 0.56
669 0.54
672 -0.9
675 0.55
688 0.62
700 0.93
710 0.63
740 0.6
758 0.55
776 0.5
781 0.0
785 -0.3
789 0.2
798 0.7
809 0.92
820 0.62
870 0.58
893 0.5
897 0.2
901 -0.05
905 0.3
914 0.6
925 0.8
940 0.6
1000 0.57
}\mmI
\pgfplotstableread{
x y
0 0.32
8 0.34
18 0.32
40 0.05
74 -0.7
80 -0.85
85 -0.65
102 0.81
108 0.93
116 0.87
180 -0.7
186 -0.85
191 -0.65
210 0.71
216 0.83
224 0.77
292 -0.65
298 -0.8
303 -0.6
319 0.63
325 0.75
333 0.69
382 -0.55
388 -0.7
393 -0.5
407 0.68
413 0.8
421 0.74
502 -0.85
508 -1.0
513 -0.8
531 0.88
537 1.0
545 0.94
615 -0.8
621 -0.95
626 -0.75
645 0.81
651 0.93
659 0.87
726 -0.8
732 -0.95
737 -0.75
755 0.78
761 0.9
769 0.84
836 -0.7
842 -0.85
847 -0.65
866 0.73
872 0.85
880 0.79
948 -0.7
954 -0.85
959 -0.65
975 0.56
981 0.68
989 0.6
1000 0.35
}\ppgI
% ---------------- Panel J (row 5 right)
\pgfplotstableread{
x e m
0 0.63 0.63
6 0.63 0.63
9 0.7 0.7
12 0.62 0.62
29 0.6 0.6
32 -0.95 -0.92
35 0.63 0.63
48 0.7 0.7
58 0.98 0.98
68 0.68 0.68
100 0.64 0.64
103 0.67 0.67
106 0.63 0.63
125 0.6 0.6
128 -0.92 -0.6
131 0.63 0.63
144 0.7 0.7
154 0.97 0.95
164 0.67 0.67
198 0.63 0.63
201 0.7 0.68
204 0.62 0.62
221 0.6 0.6
224 -0.8 -0.55
227 0.63 0.63
240 0.7 0.7
250 0.97 0.95
260 0.67 0.67
291 0.63 0.63
294 0.7 0.68
297 0.62 0.62
314 0.6 0.6
317 -0.65 -0.6
320 0.63 0.63
333 0.7 0.7
343 1.0 0.97
353 0.67 0.67
385 0.63 0.63
388 0.7 0.68
391 0.62 0.62
408 0.6 0.6
411 -0.95 -0.85
414 0.63 0.63
427 0.7 0.7
437 0.98 0.95
447 0.67 0.67
455 0.64 0.64
459 0.75 0.7
463 0.63 0.63
483 0.6 0.6
486 -1.0 -0.8
489 0.63 0.63
502 0.7 0.7
512 0.97 0.95
522 0.67 0.67
570 0.63 0.63
573 0.7 0.68
576 0.62 0.62
593 0.6 0.6
596 -0.95 -0.75
599 0.63 0.63
612 0.7 0.7
622 0.95 0.93
632 0.67 0.67
663 0.63 0.63
666 0.7 0.68
669 0.62 0.62
686 0.6 0.6
689 -0.9 -0.85
692 0.63 0.63
705 0.7 0.7
715 0.97 0.95
725 0.67 0.67
757 0.63 0.63
760 0.7 0.68
763 0.62 0.62
780 0.6 0.6
783 -0.9 -0.8
786 0.63 0.63
799 0.7 0.7
809 0.97 0.97
819 0.67 0.67
850 0.63 0.63
853 0.7 0.68
856 0.62 0.62
873 0.6 0.6
876 -0.98 -0.8
879 0.63 0.63
892 0.7 0.7
902 0.98 0.95
912 0.67 0.67
942 0.63 0.63
945 0.7 0.68
948 0.62 0.62
965 0.6 0.6
968 -0.95 -0.7
971 0.63 0.63
984 0.75 0.72
993 0.93 0.85
1000 0.7 0.68
}\ecgJ
\pgfplotstableread{
x y
0 0.63
6 0.63
9 0.7
12 0.62
29 0.6
32 -0.37
35 0.63
48 0.7
58 0.95
68 0.68
100 0.64
103 0.67
106 0.63
125 0.6
128 -0.92
131 0.63
144 0.7
154 0.97
164 0.67
198 0.63
201 0.7
204 0.62
221 0.6
224 -0.65
227 0.63
240 0.7
250 0.97
260 0.67
291 0.63
294 0.7
297 0.62
314 0.6
317 -0.55
320 0.63
333 0.7
343 0.97
353 0.67
385 0.63
388 0.7
391 0.62
408 0.6
411 -0.35
414 0.63
427 0.7
437 0.97
447 0.67
455 0.64
459 0.72
463 0.63
490 0.62
498 0.45
503 -0.3
508 0.45
518 0.78
528 0.9
540 0.66
570 0.63
593 0.6
596 -0.4
599 0.63
612 0.7
622 0.93
632 0.67
663 0.63
686 0.6
689 -0.85
692 0.63
705 0.7
715 0.97
725 0.67
757 0.63
760 0.7
763 0.62
780 0.6
783 -0.6
786 0.63
799 0.7
809 0.95
819 0.67
850 0.63
873 0.6
876 -0.1
879 0.63
892 0.7
902 0.95
912 0.67
942 0.63
965 0.6
968 0.15
971 0.6
984 0.72
993 0.78
1000 0.68
}\mmJ
\pgfplotstableread{
x y
0 -0.2
18 -0.6
22 -0.4
34 0.83
40 0.95
48 0.89
98 -0.77
104 -0.92
109 -0.72
124 0.8
130 0.92
138 0.86
194 -0.7
200 -0.85
205 -0.65
218 0.81
224 0.93
232 0.87
290 -0.7
296 -0.85
301 -0.65
316 0.78
322 0.9
330 0.84
384 -0.62
390 -0.77
395 -0.57
410 0.83
416 0.95
424 0.89
478 -0.72
484 -0.87
489 -0.67
503 0.68
509 0.8
517 0.74
555 -0.45
561 -0.6
566 -0.4
579 0.88
585 1.0
593 0.94
661 -0.85
667 -1.0
672 -0.8
688 0.83
694 0.95
702 0.89
758 -0.63
764 -0.78
769 -0.58
785 0.76
791 0.88
799 0.82
847 -0.7
853 -0.85
858 -0.65
871 0.75
877 0.87
885 0.81
940 -0.77
946 -0.92
951 -0.72
965 0.68
971 0.8
979 0.74
1000 0.37
}\ppgJ
\begin{document}
\begin{tikzpicture}
\useasboundingbox (0,0) rectangle (573pt,-720pt);
\panel{14.25pt}{-3.5pt}{\ecgA}{\mmA}{\ppgA}{\mask{0}{280}\mask{320}{840}\mask{920}{1000}}
\panel{312.7pt}{-3.5pt}{\ecgB}{\mmB}{\ppgB}{\mask{0}{160}\mask{200}{400}\mask{440}{760}\mask{800}{1000}}
\panel{14.25pt}{-150pt}{\ecgC}{\mmC}{\ppgC}{\mask{0}{40}\mask{80}{160}\mask{200}{520}\mask{560}{1000}}
\panel{312.7pt}{-150pt}{\ecgD}{\mmD}{\ppgD}{\mask{0}{480}\mask{520}{720}\mask{760}{880}\mask{920}{1000}}
\panel{14.25pt}{-296.5pt}{\ecgE}{\mmE}{\ppgE}{\mask{0}{280}\mask{320}{600}\mask{640}{720}\mask{760}{1000}}
\panel{312.7pt}{-296.5pt}{\ecgF}{\mmF}{\ppgF}{\mask{0}{40}\mask{80}{480}\mask{520}{960}}
\panel{14.25pt}{-443pt}{\ecgG}{\mmG}{\ppgG}{\mask{40}{240}\mask{280}{520}\mask{560}{1000}}
\panel{312.7pt}{-443pt}{\ecgH}{\mmH}{\ppgH}{\mask{0}{40}\mask{80}{280}\mask{320}{800}\mask{840}{1000}}
\panel{14.25pt}{-589.5pt}{\ecgI}{\mmI}{\ppgI}{\mask{0}{280}\mask{320}{520}\mask{560}{640}\mask{680}{1000}}
\panel{312.7pt}{-589.5pt}{\ecgJ}{\mmJ}{\ppgJ}{\mask{0}{120}\mask{160}{240}\mask{280}{720}\mask{760}{1000}}
\end{tikzpicture}
\end{document}
